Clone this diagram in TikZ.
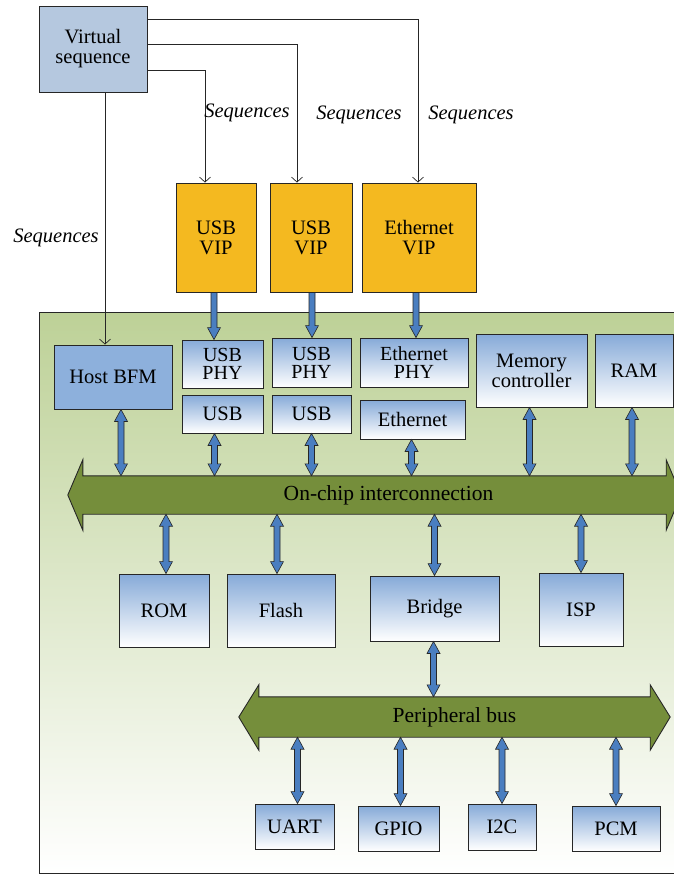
\documentclass[tikz,border=0pt]{standalone}
\usepackage{fontspec}
\setmainfont{Liberation Serif}
\usetikzlibrary{calc,arrows.meta}

\definecolor{seqbox}{HTML}{B5C8DF}
\definecolor{vip}{HTML}{F4B920}
\definecolor{bfm}{HTML}{8DB0DC}
\definecolor{boxtop}{HTML}{86AAD8}
\definecolor{busgreen}{HTML}{758E3B}
\definecolor{chiptop}{HTML}{BDD197}
\definecolor{arrowblue}{HTML}{4A7EC0}
\definecolor{edge}{HTML}{262626}

\newcommand\lab{\fontsize{20.5}{20}\selectfont}
\newcommand\phylab{\fontsize{20}{18}\selectfont}
\newcommand\buslab{\fontsize{21.5}{22}\selectfont}

\begin{document}
\begin{tikzpicture}[x=1pt,y=-1pt,
  box/.style={draw=edge, line width=0.9pt, inner sep=0pt, align=center, font=\lab},
  gbox/.style={box, top color=boxtop, bottom color=white},
  seq/.style={draw=edge, line width=0.7pt, -{Straight Barb[length=5pt,width=11pt]}},
  seqlabel/.style={font={\lab\itshape}},
  blockarrow/.style={fill=arrowblue, draw=edge, line width=0.6pt},
  dblarrow/.style={blockarrow, to path={let \p1=(\tikztostart), \p2=(\tikztotarget) in
    (\x1,\y1) -- (\x1+6.5pt,\y1-12pt) -- (\x1+3pt,\y1-12pt) -- (\x1+3pt,\y2+12pt)
    -- (\x1+6.5pt,\y2+12pt) -- (\x1,\y2) -- (\x1-6.5pt,\y2+12pt) -- (\x1-3pt,\y2+12pt)
    -- (\x1-3pt,\y1-12pt) -- (\x1-6.5pt,\y1-12pt) -- cycle}},
  sglarrow/.style={blockarrow, to path={let \p1=(\tikztostart), \p2=(\tikztotarget) in
    (\x1-3pt,\y1) -- (\x1+3pt,\y1) -- (\x1+3pt,\y2+12pt) -- (\x1+6.5pt,\y2+12pt)
    -- (\x1,\y2) -- (\x1-6.5pt,\y2+12pt) -- (\x1-3pt,\y2+12pt) -- cycle}},
  bus/.style={fill=busgreen, draw=edge, line width=0.9pt}
]
\useasboundingbox (0,0) rectangle (674,876);
\clip (0,0) rectangle (674,876);

% chip area
\path[draw=edge, line width=1pt, top color=chiptop, bottom color=white]
  (39,312) rectangle (700,873);

% test environment
\node[box, fill=seqbox, minimum width=108, minimum height=86] (vseq) at (93,49) {Virtual\\sequence};
\node[box, fill=vip, minimum width=80, minimum height=109] (usbvip1) at (216,237.5) {USB\\VIP};
\node[box, fill=vip, minimum width=82, minimum height=109] (usbvip2) at (311,237.5) {USB\\VIP};
\node[box, fill=vip, minimum width=114, minimum height=109] (ethvip) at (419,237.5) {Ethernet\\VIP};

% on-chip blocks
\node[box, fill=bfm, minimum width=118, minimum height=64] (hostbfm) at (113,377) {Host BFM};
\node[gbox, font=\phylab, minimum width=81, minimum height=48] (usbphy1) at (222.5,364) {USB\\PHY};
\node[gbox, minimum width=81, minimum height=38] (usb1) at (222.5,414) {USB};
\node[gbox, font=\phylab, minimum width=79, minimum height=49] (usbphy2) at (311.5,362.5) {USB\\PHY};
\node[gbox, minimum width=79, minimum height=38] (usb2) at (311.5,414) {USB};
\node[gbox, font=\phylab, minimum width=108, minimum height=49] (ethphy) at (414,362.5) {Ethernet\\PHY};
\node[gbox, minimum width=105, minimum height=39] (eth) at (412.5,419.5) {Ethernet};
\node[gbox, minimum width=111, minimum height=73] (memctl) at (531.5,370.5) {Memory\\controller};
\node[gbox, minimum width=78, minimum height=73] (ram) at (634,370.5) {RAM};

\node[gbox, minimum width=90, minimum height=73] (rom) at (164,610.5) {ROM};
\node[gbox, minimum width=108, minimum height=73] (flash) at (281,610.5) {Flash};
\node[gbox, minimum width=129, minimum height=65] (bridge) at (434.5,608.5) {Bridge};
\node[gbox, minimum width=84, minimum height=73] (isp) at (581,609.5) {ISP};

\node[gbox, minimum width=79, minimum height=45] (uart) at (294.5,826.5) {UART};
\node[gbox, minimum width=81, minimum height=45] (gpio) at (398.5,828.5) {GPIO};
\node[gbox, minimum width=68, minimum height=46] (i2c) at (502,827) {I2C};
\node[gbox, minimum width=88, minimum height=45] (pcm) at (616,828.5) {PCM};

% buses
\node[minimum width=583, minimum height=38, inner sep=0pt] (onchip) at (374.5,495) {};
\draw[bus] (onchip.north west) -- ++(0,-16) -- ($(onchip.west)+(-15,0)$)
  -- ($(onchip.south west)+(0,16)$) -- (onchip.south west) -- (onchip.south east)
  -- ++(0,16) -- ($(onchip.east)+(15,0)$) -- ($(onchip.north east)+(0,-16)$)
  -- (onchip.north east) -- cycle;
\node[font=\buslab] (onchiplabel) at ([xshift=14]onchip.center) {On-chip interconnection};

\node[minimum width=391, minimum height=40, inner sep=0pt] (perbus) at (454.5,717) {};
\draw[bus] (perbus.north west) -- ++(0,-12) -- ($(perbus.west)+(-20,0)$)
  -- ($(perbus.south west)+(0,13)$) -- (perbus.south west) -- (perbus.south east)
  -- ++(0,13) -- ($(perbus.east)+(20,0)$) -- ($(perbus.north east)+(0,-12)$)
  -- (perbus.north east) -- cycle;
\node[font=\buslab] (perbuslabel) at (perbus.center) {Peripheral bus};

% sequence connections
\draw[seq] ([yshift=-14]vseq.north east) -| ([xshift=-1]ethvip.north);
\draw[seq] ([yshift=5]vseq.east) -| ([xshift=-14]usbvip2.north);
\draw[seq] ([yshift=-21]vseq.east) -| ([xshift=-11]usbvip1.north);
\draw[seq] ([xshift=12]vseq.south) -- ([xshift=12]vseq.south |- hostbfm.north);

\node[seqlabel] (lab1) at (247,113) {Sequences};
\node[seqlabel] (lab2) at (359,115) {Sequences};
\node[seqlabel] (lab3) at (471,115) {Sequences};
\node[seqlabel] (lab4) at (56,238) {Sequences};

% VIP to PHY links
\draw[sglarrow] ([xshift=-2]usbvip1.south) to (usbphy1.north);
\draw[sglarrow] ([xshift=1]usbvip2.south) to (usbphy2.north);
\draw[sglarrow] ([xshift=-3]ethvip.south) to (ethphy.north);

% links to the on-chip interconnection
\draw[dblarrow] ([xshift=8]hostbfm.south) to ([xshift=8]hostbfm.south |- onchip.north);
\draw[dblarrow] ([xshift=-8]usb1.south) to ([xshift=-8]usb1.south |- onchip.north);
\draw[dblarrow] (usb2.south) to (usb2.south |- onchip.north);
\draw[dblarrow] ([xshift=-1]eth.south) to ([xshift=-1]eth.south |- onchip.north);
\draw[dblarrow] ([xshift=-2]memctl.south) to ([xshift=-2]memctl.south |- onchip.north);
\draw[dblarrow] ([xshift=-2]ram.south) to ([xshift=-2]ram.south |- onchip.north);

\draw[dblarrow] ([xshift=2]rom.north |- onchip.south) to ([xshift=2]rom.north);
\draw[dblarrow] ([xshift=-4]flash.north |- onchip.south) to ([xshift=-4]flash.north);
\draw[dblarrow] (bridge.north |- onchip.south) to (bridge.north);
\draw[dblarrow] (isp.north |- onchip.south) to (isp.north);

% links to the peripheral bus
\draw[dblarrow] ([xshift=-1]bridge.south) to ([xshift=-1]bridge.south |- perbus.north);
\draw[dblarrow] ([xshift=3]uart.north |- perbus.south) to ([xshift=3]uart.north);
\draw[dblarrow] ([xshift=2]gpio.north |- perbus.south) to ([xshift=2]gpio.north);
\draw[dblarrow] (i2c.north |- perbus.south) to (i2c.north);
\draw[dblarrow] (pcm.north |- perbus.south) to (pcm.north);
\end{tikzpicture}
\end{document}
